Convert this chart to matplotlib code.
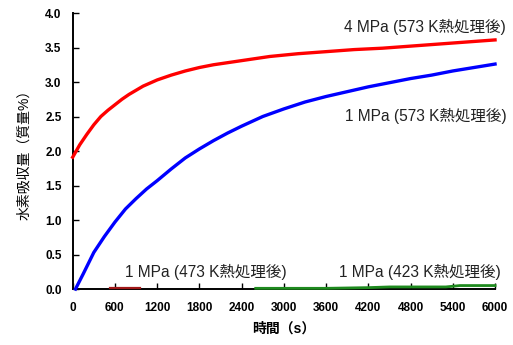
import matplotlib
matplotlib.use("Agg")
import matplotlib.pyplot as plt

plt.rcParams['font.family'] = ['Liberation Sans', 'Noto Sans CJK JP', 'DejaVu Sans']

# Hydrogen uptake vs time
t_4mpa_573 = [0, 100, 200, 300, 400, 500, 600, 700, 800, 900, 1000, 1200, 1400, 1600, 1800,
              2000, 2400, 2800, 3200, 3600, 4000, 4400, 4800, 5200, 5600, 6000]
h_4mpa_573 = [1.91, 2.09, 2.24, 2.38, 2.50, 2.59, 2.67, 2.75, 2.82, 2.88, 2.94, 3.03, 3.10, 3.16, 3.21,
              3.25, 3.31, 3.37, 3.41, 3.44, 3.47, 3.49, 3.52, 3.55, 3.58, 3.61]

t_1mpa_573 = [40, 150, 300, 450, 600, 750, 900, 1050, 1200, 1400, 1600, 1800, 2000, 2200, 2400,
              2700, 3000, 3300, 3600, 3900, 4200, 4500, 4800, 5100, 5400, 5700, 6000]
h_1mpa_573 = [0.0, 0.22, 0.53, 0.76, 0.97, 1.16, 1.31, 1.45, 1.57, 1.74, 1.90, 2.03, 2.15, 2.26, 2.36,
              2.50, 2.61, 2.71, 2.79, 2.86, 2.93, 2.99, 3.05, 3.10, 3.16, 3.21, 3.26]

t_1mpa_473 = [530, 960]
h_1mpa_473 = [0.02, 0.02]

t_1mpa_423 = [2600, 3600, 4200, 4500, 5300, 5500, 6000]
h_1mpa_423 = [0.01, 0.01, 0.02, 0.03, 0.03, 0.05, 0.05]

x_ticks = [0, 600, 1200, 1800, 2400, 3000, 3600, 4200, 4800, 5400, 6000]
y_ticks = [0.0, 0.5, 1.0, 1.5, 2.0, 2.5, 3.0, 3.5, 4.0]

labels = {
    '4mpa_573': '4 MPa (573 K熱処理後)',
    '1mpa_573': '1 MPa (573 K熱処理後)',
    '1mpa_473': '1 MPa (473 K熱処理後)',
    '1mpa_423': '1 MPa (423 K熱処理後)',
}

fig = plt.figure(figsize=(5.13, 3.45), dpi=100)
ax = fig.add_axes([0.1417, 0.1623, 0.8233, 0.80])

lw = 2.4
ax.plot(t_4mpa_573, h_4mpa_573, color='#ff0000', lw=lw, clip_on=False, zorder=3,
        solid_joinstyle='round')
ax.plot(t_1mpa_573, h_1mpa_573, color='#0000ff', lw=lw, clip_on=False, zorder=3,
        solid_joinstyle='round')
ax.plot(t_1mpa_473, h_1mpa_473, color='#a01818', lw=1.6, clip_on=False, zorder=3)
ax.plot(t_1mpa_423, h_1mpa_423, color='#1e8a1e', lw=2.0, clip_on=False, zorder=3)

ax.set_xlim(0, 6000)
ax.set_ylim(0, 4.0)
ax.set_xticks(x_ticks)
ax.set_yticks(y_ticks)
ax.set_xticklabels([str(v) for v in x_ticks], fontsize=8.5, fontweight='bold')
ax.set_yticklabels([f'{v:.1f}' for v in y_ticks], fontsize=8.5, fontweight='bold')
ax.tick_params(direction='in', length=4, width=1, pad=8, color='black')
ax.tick_params(axis='x', pad=9)

for s in ('top', 'right'):
    ax.spines[s].set_visible(False)
for s in ('left', 'bottom'):
    ax.spines[s].set_linewidth(1.4)
    ax.spines[s].set_color('black')

ax.set_xlabel('時間（s）', fontsize=10, fontweight='bold', labelpad=6)
ax.set_ylabel('水素吸収量（質量%）', fontsize=10, labelpad=10)

txt = dict(fontsize=11.2, color='#222222', ha='center', va='center', clip_on=False)
ax.text(5010, 3.80, labels['4mpa_573'], **txt)
ax.text(5010, 2.51, labels['1mpa_573'], **txt)
ax.text(1886, 0.25, labels['1mpa_473'], **txt)
ax.text(4933, 0.25, labels['1mpa_423'], **txt)

fig.savefig('out.png', dpi=100)
